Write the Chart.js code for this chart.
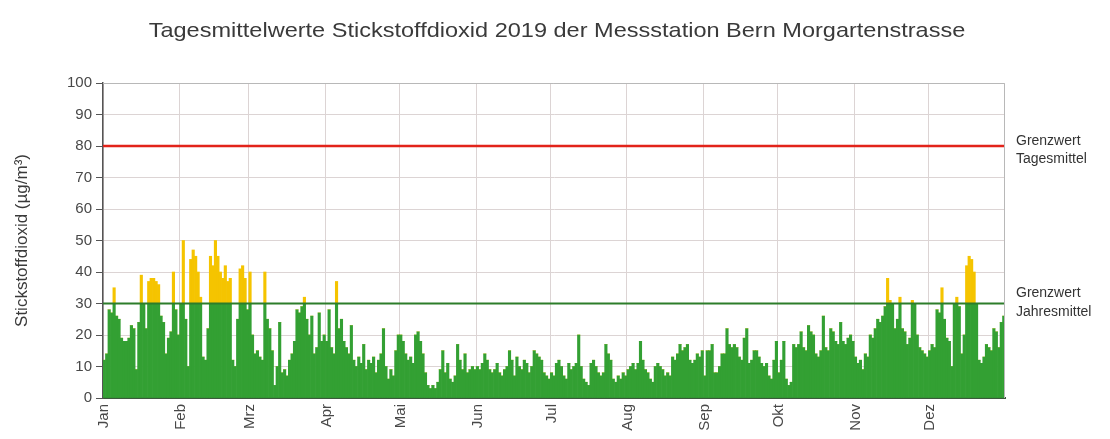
<!DOCTYPE html>
<html>
<head>
<meta charset="utf-8">
<script src="https://cdn.jsdelivr.net/npm/chart.js@4"></script>
<style>
  html, body { margin: 0; padding: 0; background: #fff; }
  #wrap { width: 1110px; height: 439px; }
</style>
</head>
<body>
<div id="wrap"><canvas id="chart"></canvas></div>
<script>
// Tagesmittel NO2 (µg/m³), one value per day
const jan = [12,14,28,27,35,26,25,19,18,18,19,23,22,9,24,39,30,22,37,38,38,37,36,26,24,14,19,21,40,28,20];
const feb = [30,50,25,10,44,47,45,40,32,13,12,22,45,42,50,45,40,38,42,37,38,12,10,25,41,42,38,28];
const mrz = [40,20,14,15,13,12,40,25,22,15,4,10,24,8,9,7,12,14,18,28,27,29,32,25,20,26,14,16,27,18,20];
const apr = [18,28,16,14,37,22,25,18,16,14,23,12,10,13,11,17,9,12,11,13,8,12,14,22,10,6,9,7,15,20];
const mai = [20,18,14,12,13,11,20,21,18,14,8,4,3,4,3,5,9,15,8,11,6,5,7,17,12,9,14,8,9,10,9];
const jun = [10,9,11,14,12,9,8,9,11,8,7,9,10,15,12,7,13,10,9,12,11,8,10,15,14,13,12,8,7,6];
const jul = [8,7,11,12,10,7,6,11,9,10,11,20,10,6,5,4,11,12,10,8,7,8,17,14,12,6,5,7,6,8,7];
const aug = [9,10,11,9,11,18,12,9,8,6,5,10,11,10,9,7,8,7,13,12,14,17,15,16,17,12,11,12,14,13,15];
const sep = [7,15,15,17,8,8,10,14,14,22,17,16,17,16,13,12,19,22,11,12,15,15,13,11,10,11,7,6,12,18];
const okt = [8,12,18,6,4,5,17,16,17,21,16,15,23,21,20,14,13,15,26,16,15,22,21,18,17,24,18,17,19,20,18];
const nov = [13,11,12,9,14,13,20,19,22,25,24,26,29,38,31,30,22,25,32,22,21,17,19,31,30,20,16,15,14,13];
const dez = [15,17,16,28,27,35,25,19,18,10,30,32,29,14,20,42,45,44,40,30,12,11,13,17,16,15,22,21,16,24,26];

const monthNames = ['Jan','Feb','Mrz','Apr','Mai','Jun','Jul','Aug','Sep','Okt','Nov','Dez'];
const months = [jan, feb, mrz, apr, mai, jun, jul, aug, sep, okt, nov, dez];

const limitDaily = 80;   // Grenzwert Tagesmittel
const limitAnnual = 30;  // Grenzwert Jahresmittel

const titleText = 'Tagesmittelwerte Stickstoffdioxid 2019 der Messstation Bern Morgartenstrasse';

// one category per day, month name only on the 1st
const labels = [];
const monthStart = [];
const values = [];
months.forEach((m, i) => {
  m.forEach((v, d) => {
    labels.push(d === 0 ? monthNames[i] : '');
    monthStart.push(d === 0);
    values.push(v);
  });
});
const below = values.map(v => Math.min(v, limitAnnual));
const above = values.map(v => Math.max(v - limitAnnual, 0));

const FONT = '"Liberation Sans", Arial, sans-serif';
const GRID = '#dcd4d4';
const TEXT = '#484848';

const limitLines = {
  id: 'limitLines',
  afterDatasetsDraw(chart) {
    const { ctx, chartArea: a, scales: { y } } = chart;
    const draw = (val, color, w, l1, l2, o1, o2) => {
      const py = y.getPixelForValue(val);
      ctx.save();
      ctx.strokeStyle = color;
      ctx.lineWidth = w;
      ctx.beginPath();
      ctx.moveTo(a.left, py);
      ctx.lineTo(a.right, py);
      ctx.stroke();
      ctx.fillStyle = '#333';
      ctx.font = '14px ' + FONT;
      ctx.textBaseline = 'middle';
      ctx.fillText(l1, a.right + 11, py + o1);
      ctx.fillText(l2, a.right + 11, py + o2);
      ctx.restore();
    };
    draw(limitDaily, '#e2231a', 2.5, 'Grenzwert', 'Tagesmittel', -5, 13);
    draw(limitAnnual, '#2d7d2a', 2, 'Grenzwert', 'Jahresmittel', -10, 9);
    // frame top / right
    ctx.save();
    ctx.strokeStyle = '#b8b8b8';
    ctx.lineWidth = 1;
    ctx.beginPath();
    ctx.moveTo(a.left, a.top + 0.5);
    ctx.lineTo(a.right - 0.5, a.top + 0.5);
    ctx.lineTo(a.right - 0.5, a.bottom);
    ctx.stroke();
    ctx.restore();
  },
  afterDraw(chart) {
    // the title in the picture is drawn a bit wider than the font
    const { ctx } = chart;
    ctx.save();
    ctx.font = '21px ' + FONT;
    ctx.fillStyle = '#3a3a3a';
    ctx.textAlign = 'center';
    ctx.textBaseline = 'middle';
    ctx.translate(557, 31);
    ctx.scale(1.12, 1);
    ctx.fillText(titleText, 0, 0);
    ctx.restore();
  }
};

new Chart(document.getElementById('chart'), {
  type: 'bar',
  data: {
    labels: labels,
    datasets: [
      { data: below, backgroundColor: '#33a033', borderWidth: 0, barPercentage: 1, categoryPercentage: 1 },
      { data: above, backgroundColor: '#f5c400', borderWidth: 0, barPercentage: 1, categoryPercentage: 1 }
    ]
  },
  options: {
    responsive: true,
    maintainAspectRatio: false,
    animation: false,
    layout: { padding: { left: 8, right: 105, top: 83, bottom: 0 } },
    plugins: {
      legend: { display: false },
      tooltip: { enabled: false },
      title: { display: false }
    },
    scales: {
      x: {
        stacked: true,
        grid: {
          offset: true,
          drawTicks: false,
          color: c => (c.index >= labels.length || monthStart[c.index]) ? GRID : 'rgba(0,0,0,0)'
        },
        border: { color: '#3c5a3c', width: 2 },
        ticks: {
          autoSkip: false,
          minRotation: 90,
          maxRotation: 90,
          padding: 6,
          color: TEXT,
          font: { family: FONT, size: 15 }
        },
        afterFit: s => { s.height = 41; }
      },
      y: {
        stacked: true,
        min: 0,
        max: 100,
        ticks: {
          stepSize: 10,
          padding: 4,
          color: TEXT,
          font: { family: FONT, size: 15 }
        },
        grid: { color: GRID, tickColor: '#555', tickLength: 7 },
        border: { color: '#555', width: 1.5 },
        title: {
          display: true,
          text: 'Stickstoffdioxid (µg/m³)',
          color: '#3a3a3a',
          padding: { top: 4, bottom: 0 },
          font: { family: FONT, size: 17 }
        },
        afterFit: s => { s.width = 95; }
      }
    }
  },
  plugins: [limitLines]
});
</script>
</body>
</html>
